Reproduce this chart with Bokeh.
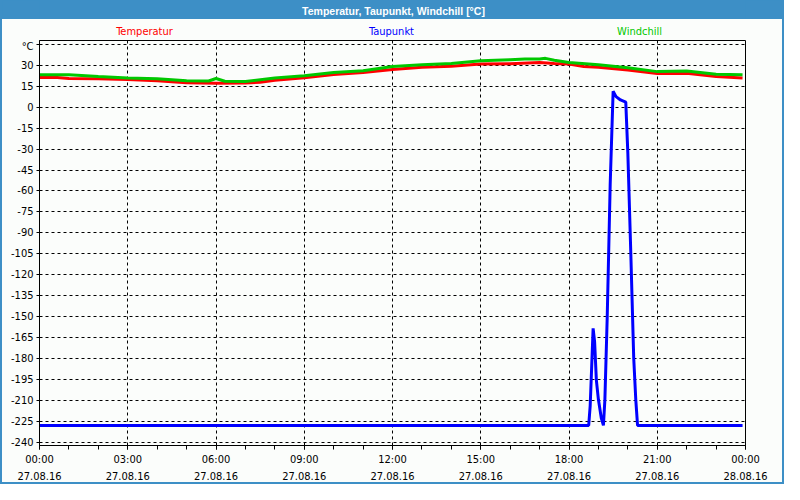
from bokeh.plotting import figure
from bokeh.layouts import column
from bokeh.models import Range1d, FixedTicker, LinearAxis, Grid
from bokeh.core.properties import value
from bokeh.embed import file_html
from bokeh.resources import INLINE

# ---------------- data ----------------
temp_hours = [0.0, 0.5, 1.0, 2.0, 3.0, 4.0, 5.0, 6.0, 7.0, 7.5, 8.0, 9.0, 10.0,
              11.0, 12.0, 13.0, 14.0, 15.0, 16.0, 17.0, 17.5, 18.0, 18.5, 19.0,
              20.0, 21.0, 22.0, 23.0, 23.9]
temperatur = [21.2, 21.5, 20.6, 20.4, 19.9, 18.9, 17.6, 17.2, 17.3, 17.9, 19.3,
              21.1, 23.4, 24.8, 27.0, 28.6, 29.4, 30.9, 31.2, 32.0, 31.3, 30.9,
              29.2, 28.7, 26.6, 24.1, 24.4, 22.0, 20.9]

wind_hours = [0.0, 1.0, 2.0, 3.0, 4.0, 5.0, 5.75, 6.0, 6.3, 7.0, 8.0, 9.0, 10.0,
              11.0, 12.0, 13.0, 14.0, 15.0, 16.0, 16.5, 17.0, 17.2, 17.5, 18.0,
              19.0, 20.0, 21.0, 22.0, 23.0, 23.9]
windchill = [23.3, 23.2, 22.0, 21.0, 20.4, 19.0, 18.8, 20.6, 18.6, 18.4, 20.9,
             22.5, 24.8, 26.2, 29.2, 30.5, 31.4, 33.3, 34.0, 34.6, 34.5, 35.0,
             33.6, 32.1, 30.5, 28.2, 25.5, 26.0, 23.6, 23.2]

dew_hours = [0.0, 18.67, 18.72, 18.77, 18.82, 18.87, 18.93, 19.0, 19.1, 19.17,
             19.22, 19.3, 19.4, 19.5, 19.6, 19.75, 19.93, 20.0, 20.1, 20.2,
             20.27, 20.33, 23.9]
taupunkt = [-228.0, -228.0, -214.0, -186.6, -158.5, -168.0, -195.5, -209.5,
            -223.0, -228.0, -209.5, -149.8, -55.6, 11.4, 7.6, 5.2, 3.6, -32.7,
            -103.9, -179.7, -209.5, -228.0, -228.0]

x_ticks = [0, 3, 6, 9, 12, 15, 18, 21, 24]
x_time_labels = ["00:00", "03:00", "06:00", "09:00", "12:00", "15:00", "18:00",
                 "21:00", "00:00"]
x_date_labels = ["27.08.16", "27.08.16", "27.08.16", "27.08.16", "27.08.16",
                 "27.08.16", "27.08.16", "27.08.16", "28.08.16"]
x_minor = list(range(0, 25))
y_ticks = list(range(-240, 46, 15))
y_labels = [str(t) for t in range(-240, 31, 15)] + ["°C"]

title_text = "Temperatur, Taupunkt, Windchill [°C]"
series_names = ["Temperatur", "Taupunkt", "Windchill"]
series_colors = ["#ff0000", "#0000ff", "#00c800"]

# ---------------- styling ----------------
FONT = "DejaVu Sans Condensed, DejaVu Sans"
TITLE_FONT = "Liberation Sans"
FS = "11px"
BLUE_BAR = "#3d8fc6"
BG = "#fbfdfb"
W = 780            # inner width (2px blue border each side)
BAR_H = 19
LEG_H = 20
MAIN_H = 443
BL, BR, BB = 37, 37, 36   # borders of the plot frame inside the main figure


def bare_figure(height, xr, yr, fill):
    f = figure(width=W, height=height, output_backend="svg",
               toolbar_location=None, x_range=xr, y_range=yr,
               x_axis_type=None, y_axis_type=None,
               min_border_left=BL, min_border_right=BR,
               min_border_top=0, min_border_bottom=0,
               styles={"background-color": fill})
    f.border_fill_color = fill
    f.background_fill_color = fill
    f.background_fill_alpha = 0.0   # border fill covers the whole canvas
    f.outline_line_color = None
    f.grid.visible = False
    return f


# ---------------- title bar ----------------
bar = bare_figure(BAR_H, Range1d(BL, W - BR), Range1d(BAR_H, 0), BLUE_BAR)
bar.text(x=[W / 2 + 1], y=[10], text=[title_text], text_align="center",
         text_baseline="middle", text_color="white",
         text_font=value(TITLE_FONT), text_font_size="10.5px",
         text_font_style="bold")

# ---------------- series names row ----------------
leg = bare_figure(LEG_H, Range1d(BL, W - BR), Range1d(LEG_H, 0), BG)
leg.text(x=[142, 389, 637], y=[11.5, 11.5, 11.5], text=series_names,
         text_align="center", text_baseline="middle",
         text_color=series_colors, text_font=value(FONT), text_font_size=FS)

# ---------------- main chart ----------------
p = figure(width=W, height=MAIN_H, output_backend="svg", toolbar_location=None,
           x_range=Range1d(0, 24), y_range=Range1d(-242.4, 47.8),
           x_axis_type=None, y_axis_type=None,
           min_border_left=BL, min_border_right=BR,
           min_border_top=1, min_border_bottom=BB,
           styles={"background-color": BG})
p.background_fill_color = BG
p.border_fill_color = BG
p.outline_line_color = "black"
p.outline_line_width = 1

xa = LinearAxis(ticker=FixedTicker(ticks=x_ticks, minor_ticks=x_minor),
                major_label_overrides=dict(zip(x_ticks, x_time_labels)))
xa.axis_line_color = "black"
xa.major_tick_in = 0
xa.major_tick_out = 4
xa.minor_tick_in = 0
xa.minor_tick_out = 4
xa.major_tick_line_color = "black"
xa.minor_tick_line_color = "black"
xa.major_label_standoff = 3
xa.major_label_text_font = FONT
xa.major_label_text_font_size = FS
xa.major_label_text_color = "black"
p.add_layout(xa, "below")

xa2 = LinearAxis(ticker=FixedTicker(ticks=x_ticks, minor_ticks=[]),
                 major_label_overrides=dict(zip(x_ticks, x_date_labels)))
xa2.axis_line_color = None
xa2.major_tick_line_color = None
xa2.minor_tick_line_color = None
xa2.major_tick_in = 0
xa2.major_tick_out = 0
xa2.major_label_standoff = 3
xa2.major_label_text_font = FONT
xa2.major_label_text_font_size = FS
xa2.major_label_text_color = "black"
p.add_layout(xa2, "below")

ya = LinearAxis(ticker=FixedTicker(ticks=y_ticks, minor_ticks=[]),
                major_label_overrides=dict(zip(y_ticks, y_labels)))
ya.axis_line_color = "black"
ya.major_tick_in = 0
ya.major_tick_out = 3
ya.major_tick_line_color = "black"
ya.minor_tick_line_color = None
ya.major_label_standoff = 3
ya.major_label_text_font = FONT
ya.major_label_text_font_size = FS
ya.major_label_text_color = "black"
p.add_layout(ya, "left")

gx = Grid(dimension=0, ticker=FixedTicker(ticks=x_ticks[1:-1]),
          grid_line_color="black", grid_line_dash="3 3", grid_line_width=1)
gy = Grid(dimension=1, ticker=FixedTicker(ticks=y_ticks),
          grid_line_color="black", grid_line_dash="3 3", grid_line_width=1)
p.add_layout(gx)
p.add_layout(gy)

p.line(temp_hours, temperatur, line_color=series_colors[0], line_width=3)
p.line(wind_hours, windchill, line_color=series_colors[2], line_width=3)
p.line(dew_hours, taupunkt, line_color=series_colors[1], line_width=3)

layout = column(bar, leg, p, spacing=0,
                styles={"border-left": "2px solid " + BLUE_BAR,
                        "border-right": "2px solid " + BLUE_BAR,
                        "border-bottom": "2px solid " + BLUE_BAR,
                        "background-color": BG})

open("out.html", "w").write(file_html(layout, INLINE))
